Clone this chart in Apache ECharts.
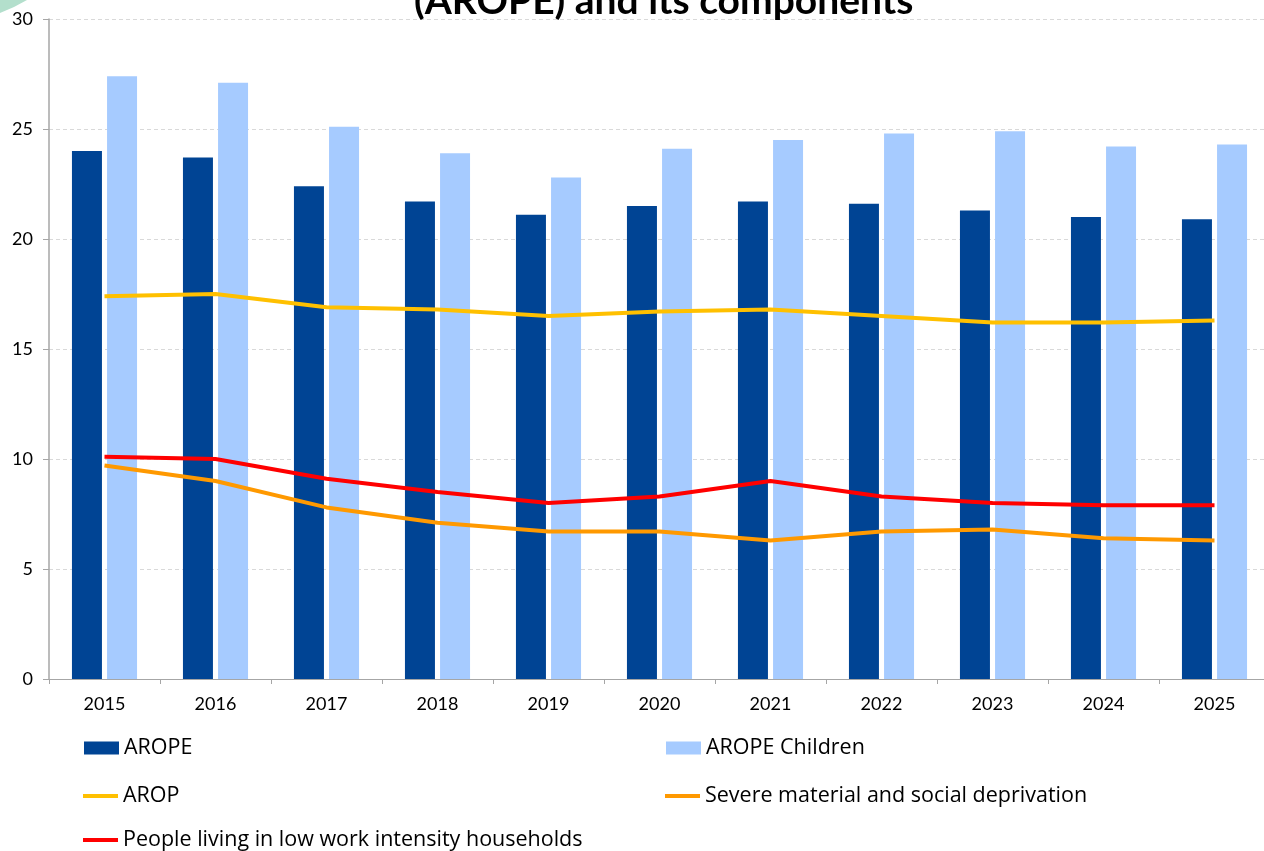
<!DOCTYPE html>
<html>
<head>
<meta charset="utf-8">
<script src="https://cdn.jsdelivr.net/npm/echarts@6/dist/echarts.min.js"></script>
<style>
html,body{margin:0;padding:0;background:#fff;overflow:hidden;}
#chart{width:1270px;height:851px;}
</style>
</head>
<body>
<div id="chart"></div>
<script>
const years = ['2015','2016','2017','2018','2019','2020','2021','2022','2023','2024','2025'];
const arope = [24.0, 23.7, 22.4, 21.7, 21.1, 21.5, 21.7, 21.6, 21.3, 21.0, 20.9];
const aropeChildren = [27.4, 27.1, 25.1, 23.9, 22.8, 24.1, 24.5, 24.8, 24.9, 24.2, 24.3];
const arop = [17.4, 17.5, 16.9, 16.8, 16.5, 16.7, 16.8, 16.5, 16.2, 16.2, 16.3];
const severeDeprivation = [9.7, 9.0, 7.8, 7.1, 6.7, 6.7, 6.3, 6.7, 6.8, 6.4, 6.3];
const lowWorkIntensity = [10.1, 10.0, 9.1, 8.5, 8.0, 8.3, 9.0, 8.3, 8.0, 7.9, 7.9];
const yTicks = [0, 5, 10, 15, 20, 25, 30];

const FONT = 'Lato, "Open Sans", sans-serif';
const LEGEND_FONT = '"Open Sans", sans-serif';
const chart = echarts.init(document.getElementById('chart'), null, {renderer: 'canvas'});

function legendFor(name, left, top, isLine) {
  return {
    data: [{name: name, icon: 'rect'}],
    left: left, top: top,
    orient: 'horizontal',
    itemWidth: 35, itemHeight: isLine ? 4 : 13,
    itemGap: 0,
    padding: 0,
    textStyle: {fontFamily: LEGEND_FONT, fontSize: 21.5, color: '#000'},
    selectedMode: false
  };
}

chart.setOption({
  animation: false,
  backgroundColor: '#fff',
  title: {
    text: '(AROPE) and its components',
    left: 414,
    top: -22,
    padding: 0,
    textStyle: {fontFamily: FONT, fontWeight: 'bold', fontSize: 39, color: '#000', lineHeight: 46}
  },
  graphic: [{
    type: 'polygon',
    shape: {points: [[0,0],[27,0],[14,7],[0,13]]},
    style: {fill: '#b3dfcc'},
    silent: true
  }],
  legend: [
    legendFor('AROPE', 84, 737, false),
    legendFor('AROPE Children', 666, 737, false),
    legendFor('AROP', 83, 785, true),
    legendFor('Severe material and social deprivation', 665, 785, true),
    legendFor('People living in low work intensity households', 83, 829, true)
  ],
  grid: {left: 49, right: 0, top: 19, bottom: 172, containLabel: false},
  xAxis: {
    type: 'category',
    data: years,
    axisLine: {show: true, lineStyle: {color: '#a6a6a6', width: 1}},
    axisTick: {show: true, length: 5, lineStyle: {color: '#a6a6a6'}},
    axisLabel: {fontFamily: FONT, fontSize: 18, color: '#000', margin: 16}
  },
  yAxis: {
    type: 'value',
    min: 0, max: 30, interval: 5,
    axisLine: {show: true, lineStyle: {color: '#a6a6a6', width: 1.5}},
    axisTick: {show: true, length: 6, lineStyle: {color: '#a6a6a6'}},
    axisLabel: {fontFamily: FONT, fontSize: 18, color: '#000', margin: 16,
      formatter: v => yTicks.includes(v) ? String(v) : ''},
    splitLine: {show: true, lineStyle: {color: '#d9d9d9', type: [4, 3], width: 1}}
  },
  series: [
    {name: 'AROPE', type: 'bar', data: arope, barWidth: 30, barGap: '17%',
      itemStyle: {color: '#004494'}, z: 2},
    {name: 'AROPE Children', type: 'bar', data: aropeChildren, barWidth: 30,
      itemStyle: {color: '#a6cbff'}, z: 2},
    {name: 'AROP', type: 'line', data: arop, symbol: 'none',
      lineStyle: {color: '#ffc000', width: 4}, itemStyle: {color: '#ffc000'}, z: 5},
    {name: 'Severe material and social deprivation', type: 'line', data: severeDeprivation, symbol: 'none',
      lineStyle: {color: '#ff9900', width: 4}, itemStyle: {color: '#ff9900'}, z: 5},
    {name: 'People living in low work intensity households', type: 'line', data: lowWorkIntensity, symbol: 'none',
      lineStyle: {color: '#ff0000', width: 4}, itemStyle: {color: '#ff0000'}, z: 6}
  ]
});
</script>
</body>
</html>
